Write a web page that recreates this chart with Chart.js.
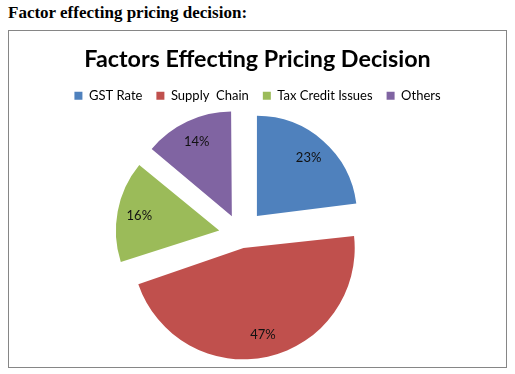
<!DOCTYPE html>
<html>
<head>
<meta charset="utf-8">
<script src="https://cdn.jsdelivr.net/npm/chart.js@4"></script>
<style>
  body { margin: 0; background: #fff; }
  #heading {
    position: absolute; left: 8px; top: 3px;
    font: bold 17px "Liberation Serif", "Times New Roman", serif;
    color: #000;
  }
  #box {
    position: absolute; left: 8px; top: 30px;
    width: 497px; height: 336px;
    border: 1px solid #868686;
  }
</style>
</head>
<body>
<div id="heading">Factor effecting pricing decision:</div>
<div id="box"><canvas id="pieChart" width="497" height="336"></canvas></div>
<script>
const categories = ['GST Rate', 'Supply  Chain', 'Tax Credit Issues', 'Others'];
const shares = [23, 47, 16, 14];
const sliceColors = ['#4F81BD', '#C0504D', '#9BBB59', '#8064A2'];

const FONT = 'Lato, "Open Sans", sans-serif';
const EXPLODE = 25; // px every slice is pulled out
const total = shares.reduce((a, b) => a + b, 0);

// Chart.js moves an arc by offset/4 * (1 + fix), undo that so all slices move EXPLODE px
function sliceOffset(ctx) {
    const circ = shares[ctx.dataIndex] / total * 2 * Math.PI;
    const fix = 1 - Math.sin(Math.min(Math.PI, circ));
    return 4 * EXPLODE / (1 + fix);
}

// move the pie a bit left and up, like the original
const shiftPie = {
    id: 'shiftPie',
    afterLayout(chart) {
        const a = chart.chartArea;
        a.left -= 17;
        a.right -= 17;
        a.bottom -= 10;
    }
};

// percent labels inside each slice
const sliceLabels = {
    id: 'sliceLabels',
    afterDatasetsDraw(chart) {
        const ctx = chart.ctx;
        const meta = chart.getDatasetMeta(0);
        ctx.save();
        ctx.font = '13px ' + FONT;
        ctx.fillStyle = '#111';
        ctx.textAlign = 'center';
        ctx.textBaseline = 'middle';
        meta.data.forEach((arc, i) => {
            const p = arc.getProps(['x', 'y', 'startAngle', 'endAngle', 'outerRadius']);
            const mid = (p.startAngle + p.endAngle) / 2;
            const d = EXPLODE + p.outerRadius * 0.78;
            ctx.fillText(shares[i] + '%', p.x + Math.cos(mid) * d, p.y + Math.sin(mid) * d);
        });
        ctx.restore();
    }
};

new Chart(document.getElementById('pieChart'), {
    type: 'pie',
    data: {
        labels: categories,
        datasets: [{
            data: shares,
            backgroundColor: sliceColors,
            borderWidth: 0,
            offset: sliceOffset,
            radius: 100
        }]
    },
    options: {
        responsive: false,
        animation: false,
        plugins: {
            title: {
                display: true,
                text: 'Factors Effecting Pricing Decision',
                color: '#000',
                font: { family: FONT, size: 23.3, weight: 'bold', lineHeight: 1 },
                padding: { top: 17, bottom: 4 }
            },
            legend: {
                position: 'top',
                labels: {
                    color: '#000',
                    font: { family: FONT, size: 13 },
                    boxWidth: 8,
                    boxHeight: 8,
                    padding: 14
                }
            },
            tooltip: { enabled: false }
        }
    },
    plugins: [shiftPie, sliceLabels]
});
</script>
</body>
</html>
